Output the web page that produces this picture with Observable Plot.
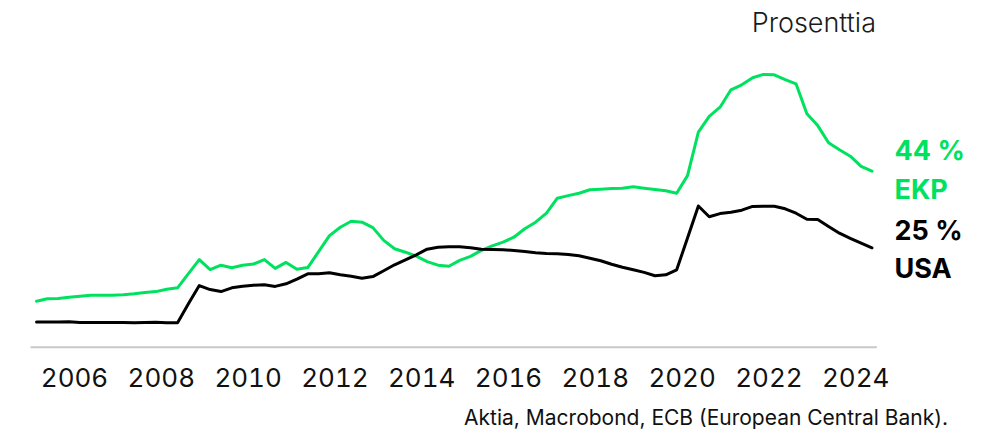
<!DOCTYPE html>
<html>
<head>
<meta charset="utf-8">
<script src="https://cdn.jsdelivr.net/npm/d3@7"></script>
<script src="https://cdn.jsdelivr.net/npm/@observablehq/plot@0.6"></script>
<style>
  html, body { margin: 0; padding: 0; background: #ffffff; }
  #wrap { width: 998px; height: 435px; overflow: hidden; font-family: Inter, "Noto Sans", sans-serif; color: #111; }
  #unit { height: 45px; line-height: 45px; font-size: 27px; font-weight: 300; text-align: right; padding-right: 122px; color: #1a1a1a; }
  #chart svg { display: block; }
  #caption { height: 35px; line-height: 35px; font-size: 21px; font-weight: 400; text-align: right; padding-right: 50px; color: #111; }
</style>
</head>
<body>
<div id="wrap">
  <div id="unit">Prosenttia</div>
  <div id="chart"></div>
  <div id="caption">Aktia, Macrobond, ECB (European Central Bank).</div>
</div>
<script>
// Quarterly observations, first quarter 2005 Q1, last 2024 Q2
const startYear = 2005;
const seriesNames = ["EKP", "USA"];
const tickYears = [2006, 2008, 2010, 2012, 2014, 2016, 2018, 2020, 2022, 2024];

// ECB balance sheet, % (EKP)
const ekpValues = [
  11.5, 12.1, 12.2, 12.5, 12.75, 13.0, 13.0, 13.0,
  13.1, 13.35, 13.7, 13.9, 14.5, 14.85, 18.4, 21.9,
  19.4, 20.5, 19.85, 20.5, 20.8, 21.9, 19.7, 21.2,
  19.5, 19.9, 23.9, 27.9, 30.0, 31.5, 31.25, 29.9,
  26.7, 24.6, 23.75, 22.75, 21.4, 20.5, 20.25, 21.7,
  22.7, 24.2, 25.35, 26.25, 27.5, 29.6, 31.25, 33.5,
  37.25, 37.9, 38.5, 39.35, 39.5, 39.7, 39.75, 40.1,
  39.75, 39.4, 39.1, 38.5, 42.9, 53.75, 57.7, 60.0,
  64.35, 65.6, 67.35, 68.2, 68.1, 66.9, 65.85, 58.35,
  55.4, 51.1, 49.35, 47.75, 45.2, 44.0
];

// Federal Reserve balance sheet, % (USA)
const usaValues = [
  6.3, 6.3, 6.3, 6.35, 6.2, 6.2, 6.2, 6.2,
  6.2, 6.1, 6.15, 6.25, 6.1, 6.1, 10.85, 15.4,
  14.4, 13.9, 14.85, 15.25, 15.5, 15.6, 15.2, 15.85,
  17.0, 18.35, 18.35, 18.6, 18.1, 17.75, 17.25, 17.65,
  19.1, 20.6, 21.85, 23.1, 24.5, 25.0, 25.1, 25.1,
  24.85, 24.5, 24.4, 24.35, 24.2, 23.9, 23.6, 23.4,
  23.35, 23.2, 22.85, 22.25, 21.6, 20.75, 20.0, 19.35,
  18.7, 17.85, 18.1, 19.35, 27.3, 35.3, 32.6, 33.4,
  33.75, 34.25, 35.2, 35.25, 35.25, 34.6, 33.5, 32.0,
  31.9, 30.2, 28.5, 27.2, 26.0, 24.85
];

const green = "#00e25f";
const black = "#000000";

// Mid-quarter position on a fractional-year axis
const toRows = (vals, name) => vals.map((v, i) => ({
  t: startYear + Math.floor(i / 4) + ((i % 4) + 0.5) / 4,
  v, name
}));
const ekpRows = toRows(ekpValues, seriesNames[0]);
const usaRows = toRows(usaValues, seriesNames[1]);
const lastEkp = ekpRows[ekpRows.length - 1];
const lastUsa = usaRows[usaRows.length - 1];
const labelText = d => `${Math.round(d.v)} %\n${d.name}`;

const chart = Plot.plot({
  width: 998,
  height: 355,
  marginLeft: 30.6,
  marginRight: 121.1,
  marginTop: 21.7,
  marginBottom: 53.3,
  style: { fontFamily: "Inter, 'Noto Sans', sans-serif", fontSize: "26px", color: "#111", background: "#fff", overflow: "visible" },
  x: { domain: [2005, 2024.5], ticks: tickYears, tickFormat: d => String(d), tickSize: 0, tickPadding: 21, label: null },
  y: { domain: [0, 70], axis: null },
  marks: [
    Plot.ruleY([0], { stroke: "#c8c8c8", strokeWidth: 2 }),
    Plot.line(ekpRows, { x: "t", y: "v", stroke: green, strokeWidth: 3 }),
    Plot.line(usaRows, { x: "t", y: "v", stroke: black, strokeWidth: 3 }),
    Plot.text([lastEkp], { x: "t", y: "v", text: labelText, dx: 22.5, dy: -38.4, textAnchor: "start", lineAnchor: "top", lineHeight: 1.44, fontWeight: 700, fontSize: 27, fill: green }),
    Plot.text([lastUsa], { x: "t", y: "v", text: labelText, dx: 22.5, dy: -35, textAnchor: "start", lineAnchor: "top", lineHeight: 1.41, fontWeight: 700, fontSize: 27, fill: black })
  ]
});
document.getElementById("chart").appendChild(chart);
</script>
</body>
</html>
